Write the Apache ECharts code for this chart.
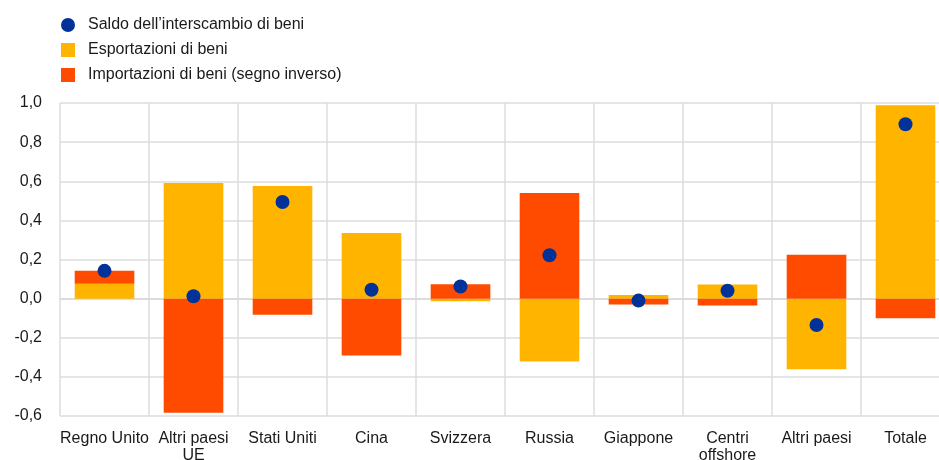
<!DOCTYPE html>
<html>
<head>
<meta charset="utf-8">
<script src="https://cdn.jsdelivr.net/npm/echarts@6/dist/echarts.min.js"></script>
<style>html,body{margin:0;padding:0;background:#fff}#c{width:939px;height:460px}</style>
</head>
<body>
<div id="c"></div>
<script>
const categories = ['Regno Unito','Altri paesi\nUE','Stati Uniti','Cina','Svizzera','Russia','Giappone','Centri\noffshore','Altri paesi','Totale'];
const esportazioni = [0.076, 0.591, 0.576, 0.335, -0.013, -0.322, 0.018, 0.072, -0.361, 0.988];
const importazioni = [0.066, -0.583, -0.083, -0.291, 0.074, 0.540, -0.030, -0.035, 0.224, -0.100];
const saldo = [0.142, 0.012, 0.494, 0.045, 0.062, 0.222, -0.010, 0.040, -0.135, 0.891];
const yTicks = {min: -0.6, max: 1.0, interval: 0.2};

const chart = echarts.init(document.getElementById('c'));
const font = 'Liberation Sans, Arial, sans-serif';
chart.setOption({
  animation: false,
  textStyle: {fontFamily: font},
  legend: {
    orient: 'vertical', left: 56, top: 12, itemWidth: 14, itemHeight: 14, itemGap: 9,
    textStyle: {fontSize: 16, color: '#1a1a1a', fontFamily: font, padding: [0,0,0,8]},
    data: [
      {name: 'Saldo dell\u2019interscambio di beni', icon: 'circle'},
      {name: 'Esportazioni di beni', icon: 'rect'},
      {name: 'Importazioni di beni (segno inverso)', icon: 'rect'}
    ]
  },
  grid: {left: 60, width: 890, top: 103, bottom: 44, outerBoundsMode: 'none', containLabel: false},
  xAxis: {
    type: 'category', data: categories,
    axisLine: {show: true, lineStyle: {color: '#d9d9d9', width: 1.5}},
    axisTick: {show: false},
    splitLine: {show: true, lineStyle: {color: '#dcdcdc', width: 1.5}},
    axisLabel: {fontSize: 16, color: '#1a1a1a', margin: 14, lineHeight: 17, interval: 0}
  },
  yAxis: {
    type: 'value', min: yTicks.min, max: yTicks.max, interval: yTicks.interval,
    axisLine: {show: false}, axisTick: {show: false},
    splitLine: {lineStyle: {color: '#dcdcdc', width: 1.5}},
    axisLabel: {fontSize: 16, color: '#1a1a1a', margin: 18,
      formatter: v => v.toFixed(1).replace('.', ',')}
  },
  series: [
    {name: 'Esportazioni di beni', type: 'bar', stack: 'a', barWidth: '67%',
     itemStyle: {color: '#FFB400'}, data: esportazioni},
    {name: 'Importazioni di beni (segno inverso)', type: 'bar', stack: 'a', barWidth: '67%',
     itemStyle: {color: '#FF4B00'}, data: importazioni},
    {name: 'Saldo dell\u2019interscambio di beni', type: 'scatter', symbolSize: 14, z: 5,
     itemStyle: {color: '#003299', opacity: 1}, data: saldo}
  ]
});
</script>
</body>
</html>
